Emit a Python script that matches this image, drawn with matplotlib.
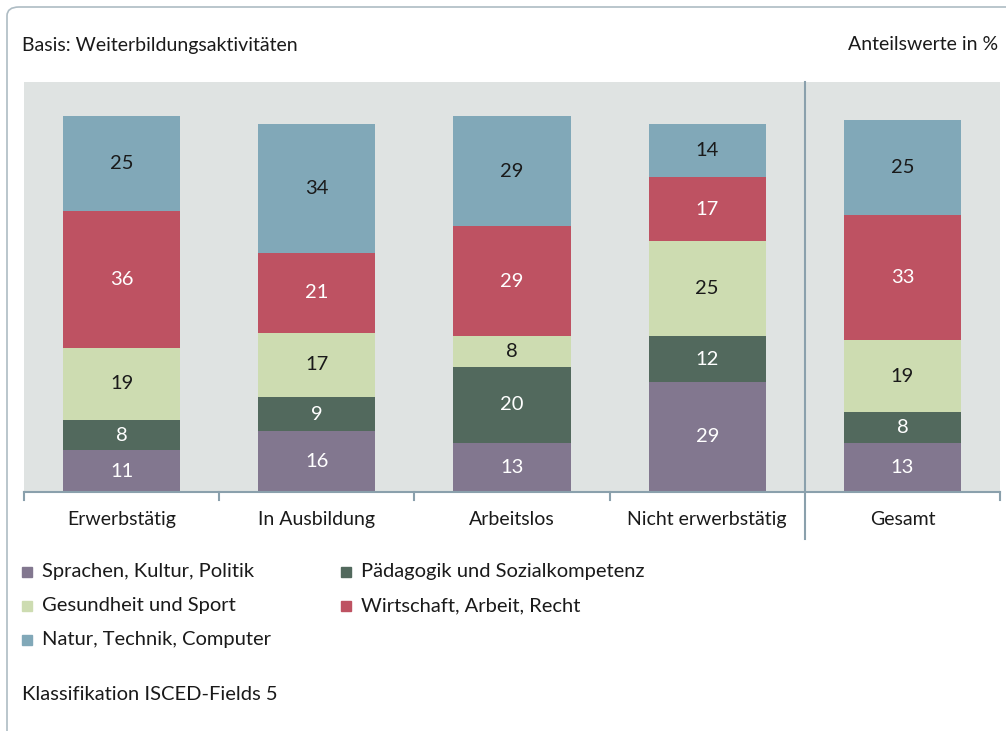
import matplotlib
matplotlib.use('Agg')
import matplotlib.pyplot as plt
from matplotlib.patches import FancyBboxPatch, Rectangle
import numpy as np

plt.rcParams['font.family'] = ['Liberation Sans Narrow', 'Lato', 'DejaVu Sans']

groups = ['Erwerbstätig', 'In Ausbildung', 'Arbeitslos', 'Nicht erwerbstätig', 'Gesamt']
series = ['Sprachen, Kultur, Politik', 'Pädagogik und Sozialkompetenz',
          'Gesundheit und Sport', 'Wirtschaft, Arbeit, Recht', 'Natur, Technik, Computer']
sprachen = [11, 16, 13, 29, 13]
paedagogik = [8, 9, 20, 12, 8]
gesundheit = [19, 17, 8, 25, 19]
wirtschaft = [36, 21, 29, 17, 33]
natur = [25, 34, 29, 14, 25]
values = [sprachen, paedagogik, gesundheit, wirtschaft, natur]
colors = ['#82778f', '#52695d', '#cddcb1', '#be5262', '#81a8b8']
text_colors = ['white', 'white', '#1a1a1a', 'white', '#1a1a1a']

fig = plt.figure(figsize=(10.06, 7.31), dpi=100)
W, H = 1006, 731

# frame
frame = FancyBboxPatch((7 / W, -0.1), 1.2, 1 - 7 / H + 0.1,
                       boxstyle='round,pad=0,rounding_size=0.012',
                       transform=fig.transFigure, fill=False,
                       edgecolor='#aebcc4', linewidth=1.2)
fig.patches.append(frame)

ax = fig.add_axes([24 / W, 1 - 492 / H, 976 / W, 410 / H])
ax.set_facecolor('#dfe3e2')
x = np.arange(len(groups))
bottom = np.zeros(len(groups))
for vals, c, tc in zip(values, colors, text_colors):
    vals = np.array(vals)
    ax.bar(x, vals, 0.6, bottom=bottom, color=c, edgecolor='none')
    for xi, b, v in zip(x, bottom, vals):
        ax.text(xi, b + v / 2, str(v), ha='center', va='center',
                color=tc, fontsize=14.5)
    bottom += vals

ax.set_xlim(-0.5, 4.5)
ax.set_ylim(0, 108)
for s in ax.spines.values():
    s.set_visible(False)
ax.set_xticks([])
ax.set_yticks([])

axis_col = '#8aa0ac'
ax.axhline(0, color=axis_col, linewidth=1.5, clip_on=False)
for b in [-0.5, 0.5, 1.5, 2.5, 4.5]:
    ax.plot([b, b], [0, -2.2], color=axis_col, linewidth=1.5, clip_on=False)
ax.plot([3.5, 3.5], [108, -12.5], color=axis_col, linewidth=1.5, clip_on=False)
for xi, g in zip(x, groups):
    ax.text(xi, -7.2, g, ha='center', va='center', fontsize=14, color='#1a1a1a')

fig.text(22 / W, 1 - 45 / H, 'Basis: Weiterbildungsaktivitäten', fontsize=14,
         va='center', ha='left', color='#1a1a1a')
fig.text(998 / W, 1 - 45 / H, 'Anteilswerte in %', fontsize=14,
         va='center', ha='right', color='#1a1a1a')

# legend
leg_pos = [(22, 572), (341, 572), (22, 606), (341, 606), (22, 640)]
for (lx, ly), name, c in zip(leg_pos, series, colors):
    fig.patches.append(Rectangle((lx / W, 1 - (ly + 5) / H), 10 / W, 10 / H,
                                 transform=fig.transFigure, color=c))
    fig.text((lx + 20) / W, 1 - ly / H, name, fontsize=14.5, va='center',
             ha='left', color='#1a1a1a')

fig.text(22 / W, 1 - 695 / H, 'Klassifikation ISCED-Fields 5', fontsize=14.5,
         va='center', ha='left', color='#1a1a1a')

fig.savefig('out.png', dpi=100)
